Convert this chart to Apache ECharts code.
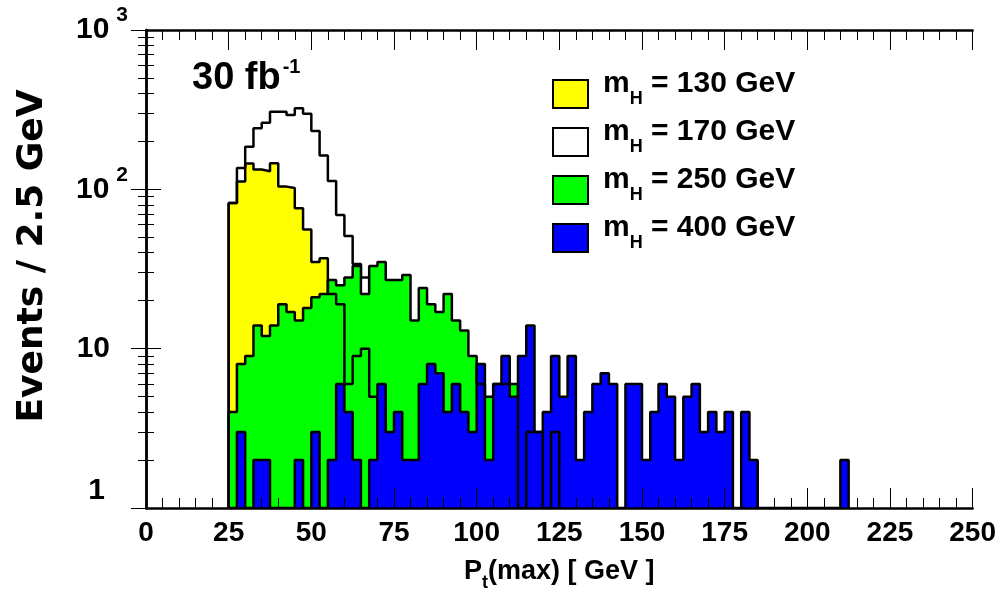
<!DOCTYPE html>
<html>
<head>
<meta charset="utf-8">
<script src="https://cdn.jsdelivr.net/npm/echarts@6/dist/echarts.min.js"></script>
<style>
html, body { margin: 0; padding: 0; background: #fff; }
#main { width: 999px; height: 608px; }
</style>
</head>
<body>
<div id="main"></div>
<script>
// bins of 2.5 GeV, first bin is 25 - 27.5 GeV
var binStart = 25
var binWidth = 2.5
var xTicks = [0, 25, 50, 75, 100, 125, 150, 175, 200, 225, 250]
var yTicks = [1, 10, 100, 1000]

var names = ['mH = 130 GeV', 'mH = 170 GeV', 'mH = 250 GeV', 'mH = 400 GeV']
var colors = ['#ffff00', '#ffffff', '#00ff00', '#0000ff']

var h130 = [82, 112, 145, 133, 130, 146, 104, 102, 76, 56, 35, 37, 22, 19, 6, 9, 10, 5]
var h170 = [82, 136, 185, 242, 262, 307, 307, 293, 323, 298, 232, 163, 113, 69, 51, 34, 28]
var h250 = [4, 8, 9, 14, 12, 14, 19, 17, 15, 18, 21, 22, 27, 25, 28, 33, 22, 33, 35, 27,
  27, 29, 15, 24, 19, 17, 22, 15, 13, 9, 6, 5, 6, 6, 6, 0, 3, 3, 0, 3]
var h400 = [0, 3, 0, 2, 2, 0, 0, 0, 2, 0, 3, 0, 2, 6, 4, 2, 0, 2, 6, 3,
  4, 2, 2, 6, 8, 7, 4, 6, 4, 3, 8, 2, 6, 9, 5, 9, 14, 3, 4, 9,
  5, 9, 2, 4, 6, 7, 6, 0, 6, 6, 2, 4, 6, 5, 2, 5, 6, 3, 4, 3,
  4, 0, 4, 2, 0, 0, 0, 0, 0, 0, 0, 0, 0, 0, 2]

var font = '"Liberation Sans", Arial, sans-serif'

// step outline of a histogram, empty bins sit on the axis floor (1)
function stepPoints(counts) {
  var pts = [[binStart, 1]]
  for (var i = 0; i < counts.length; i++) {
    pts.push([binStart + i * binWidth, Math.max(counts[i], 1)])
  }
  var end = binStart + counts.length * binWidth
  pts.push([end, Math.max(counts[counts.length - 1], 1)])
  pts.push([end, 1])
  return pts
}

function fillSeries(i, counts, z) {
  return {
    name: names[i], type: 'line', step: 'end', symbol: 'none', silent: true, z: z,
    data: stepPoints(counts),
    itemStyle: { color: colors[i] },
    lineStyle: { width: 0, opacity: 0 },
    areaStyle: { color: colors[i], opacity: 1, origin: 1 }
  }
}

function lineSeries(i, counts, z) {
  return {
    name: names[i], type: 'line', step: 'end', symbol: 'none', silent: true, z: z,
    data: stepPoints(counts),
    itemStyle: { color: colors[i] },
    lineStyle: { color: '#000', width: 2.5 }
  }
}

function yLabel(v) {
  var p = Math.round(Math.log10(v))
  if (p === 0) return '{one|1}'
  if (p === 1) return '{ten|10}'
  return '{n|10}{sup|' + p + '}'
}

var xAxisBase = {
  type: 'value', min: 0, max: 250, interval: 25, z: 10,
  axisLine: { lineStyle: { color: '#000', width: 2.5 } },
  axisTick: { inside: true, length: 20, lineStyle: { color: '#000', width: 1 } },
  minorTick: { show: true, splitNumber: 5, length: 10, lineStyle: { color: '#000', width: 1 } },
  splitLine: { show: false }
}

var yAxisBase = {
  type: 'log', logBase: 10, min: 1, max: 1000, z: 10,
  axisLine: { show: true, lineStyle: { color: '#000', width: 2.5 } },
  axisTick: { inside: true, length: 15, lineStyle: { color: '#000', width: 1 } },
  minorTick: { show: true, splitNumber: 9, length: 8, lineStyle: { color: '#000', width: 1 } },
  splitLine: { show: false }
}

var chart = echarts.init(document.getElementById('main'))
chart.setOption({
  animation: false,
  backgroundColor: '#fff',
  title: {
    text: '30 fb{sup|-1}',
    left: 187, top: 52,
    textStyle: {
      fontFamily: font, fontWeight: 'bold', fontSize: 38, lineHeight: 44, color: '#000',
      rich: {
        sup: { fontFamily: font, fontWeight: 'bold', fontSize: 20, lineHeight: 20, verticalAlign: 'top', padding: [0, 0, 0, 2] }
      }
    }
  },
  legend: {
    data: names,
    orient: 'vertical', left: 552, top: 60, padding: 0,
    itemWidth: 35, itemHeight: 28, itemGap: -20,
    icon: 'rect', selectedMode: false,
    itemStyle: { borderColor: '#000', borderWidth: 2 },
    formatter: function (name) { return name.replace('mH', 'm{sub|H}') },
    textStyle: {
      fontFamily: font, fontWeight: 'bold', fontSize: 30, lineHeight: 48, color: '#000',
      padding: [0, 0, 20, 10],
      rich: {
        sub: { fontFamily: font, fontWeight: 'bold', fontSize: 18, lineHeight: 14, verticalAlign: 'bottom' }
      }
    }
  },
  grid: { left: 146, right: 22, top: 30, bottom: 100 },
  xAxis: [
    Object.assign({}, xAxisBase, {
      position: 'bottom',
      axisLabel: {
        fontFamily: font, fontWeight: 'bold', fontSize: 28, color: '#000', margin: 11,
        showMinLabel: true, showMaxLabel: true,
        customValues: xTicks
      },
      name: 'P{sub|t}(max) [ GeV ]',
      nameLocation: 'middle', nameGap: 44,
      nameTextStyle: {
        fontFamily: font, fontWeight: 'bold', fontSize: 27, lineHeight: 40, color: '#000',
        rich: { sub: { fontFamily: font, fontWeight: 'bold', fontSize: 18, lineHeight: 12, verticalAlign: 'bottom' } }
      }
    }),
    Object.assign({}, xAxisBase, { position: 'top', axisLabel: { show: false } })
  ],
  yAxis: [
    Object.assign({}, yAxisBase, {
      position: 'left',
      axisLabel: {
        formatter: yLabel, margin: 18, customValues: yTicks, color: '#000',
        rich: {
          n: { fontFamily: font, fontWeight: 'bold', fontSize: 30, lineHeight: 50 },
          sup: { fontFamily: font, fontWeight: 'bold', fontSize: 21, lineHeight: 22, verticalAlign: 'top', padding: [0, 0, 0, 7] },
          one: { fontFamily: font, fontWeight: 'bold', fontSize: 30, padding: [0, 23, 34, 0] },
          ten: { fontFamily: font, fontWeight: 'bold', fontSize: 30, padding: [0, 18, 0, 0] }
        }
      },
      name: 'Events / 2.5 GeV',
      nameLocation: 'middle', nameGap: 95,
      nameTextStyle: { fontFamily: '"DejaVu Sans", sans-serif', fontWeight: 'bold', fontSize: 36, color: '#000', padding: [0, 0, 0, 26] }
    }),
    Object.assign({}, yAxisBase, { position: 'right', axisLabel: { show: false } })
  ],
  series: [
    fillSeries(0, h130, 2),
    lineSeries(1, h170, 3),
    fillSeries(2, h250, 4),
    lineSeries(0, h130, 5),
    fillSeries(3, h400, 6),
    lineSeries(2, h250, 7),
    lineSeries(3, h400, 8)
  ]
})
</script>
</body>
</html>
